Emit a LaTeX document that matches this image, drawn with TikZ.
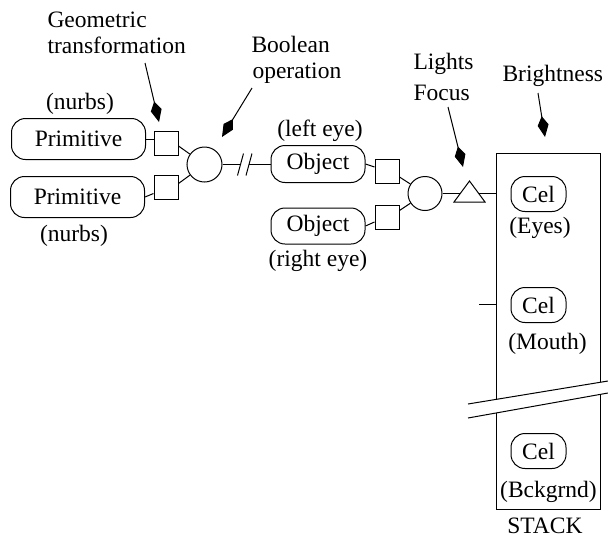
\documentclass[tikz,border=0pt]{standalone}
\usepackage{fontspec}
\setmainfont{Liberation Serif}
\usetikzlibrary{arrows.meta,calc}
\begin{document}
\begin{tikzpicture}[x=1pt,y=-1pt,line width=1pt,
  txt/.style={font=\fontsize{23.5}{26}\selectfont,inner sep=0pt},
  rbox/.style={draw,rounded corners=14pt,txt},
  sq/.style={draw,minimum size=24pt,inner sep=0pt},
  op/.style={draw,circle,minimum size=35pt,inner sep=0pt},
  pointer/.style={-{Kite[length=21pt,width=11pt,inset=9pt]}}]
\useasboundingbox (0,0) rectangle (608,539);

% primitives and their transformations
\node[rbox,minimum width=134pt,minimum height=41pt] (p1) at (78.5,139) {Primitive};
\node[rbox,minimum width=134pt,minimum height=41pt] (p2) at (77.5,197) {Primitive};
\node[sq] (sq1) at (166,143) {};
\node[sq] (sq2) at (166,187.5) {};
\node[op] (c1) at (204.5,164.5) {};

% objects
\node[rbox,minimum width=94pt,minimum height=37pt] (o1) at (318,164) {Object};
\node[rbox,minimum width=94pt,minimum height=36pt] (o2) at (318,226) {Object};
\node[sq] (sq3) at (387,171) {};
\node[sq] (sq4) at (387,217.5) {};
\node[op,minimum size=34pt] (c2) at (425,193.5) {};

% stack of cels
\node[draw,minimum width=104pt,minimum height=356pt,inner sep=0pt] (stack) at (548,331) {};
\node[rbox,minimum width=55pt,minimum height=35pt] (cel1) at (538.5,194) {Cel};
\node[rbox,minimum width=55pt,minimum height=35pt] (cel2) at (538.5,305) {Cel};
\node[rbox,minimum width=55pt,minimum height=35pt] (cel3) at (538.5,451) {Cel};

% labels
\node[txt,anchor=base west] (geo1) at (47,27) {Geometric};
\node[txt,anchor=base west] (geo2) at (47,53) {transformation};
\node[txt,anchor=base west] (bool1) at (251,52) {Boolean};
\node[txt,anchor=base west] (bool2) at (252,78) {operation};
\node[txt,anchor=base west] (lig1) at (413,69) {Lights};
\node[txt,anchor=base west] (lig2) at (413,100) {Focus};
\node[txt,anchor=base west] (bri) at (502,81) {Brightness};
\node[txt] (nu1) at (80,103.5) {(nurbs)};
\node[txt] (nu2) at (74,235.5) {(nurbs)};
\node[txt] (le) at (320,131) {(left eye)};
\node[txt] (re) at (318,261) {(right eye)};
\node[txt] (eyes) at (540,228) {(Eyes)};
\node[txt] (mouth) at (547.5,344) {(Mouth)};
\node[txt] (bck) at (548.5,492) {(Bckgrnd)};
\node[txt,anchor=base] (stk) at (545,533) {STACK};

% connections
\draw (p1.east) -- ($(sq1.west)+(0,-4)$);
\draw (p2.east) -- ($(sq2.west)+(0,6)$);
\draw ($(sq1.east)+(0,3)$) -- (c1);
\draw ($(sq2.east)+(0,-4)$) -- (c1);

\coordinate (b1) at (240.5,164.5);
\coordinate (b2) at (249,164.5);
\draw (c1.east) -- (b1);
\draw (b2) -- (b2 -| o1.west);
\draw ($(b1)+(-3,11)$) -- ($(b1)+(3,-11)$);
\draw ($(b2)+(-3,11)$) -- ($(b2)+(3,-11)$);

\draw (o1.east) -- ($(sq3.west)+(0,-4)$);
\draw (o2.east) -- ($(sq4.west)+(0,4.5)$);
\draw ($(sq3.east)+(0,6)$) -- (c2);
\draw ($(sq4.east)+(0,-7)$) -- (c2);
\draw (c2.east) -- (c2.east -| stack.west);

% light
\draw[fill=white] (454,202) -- (485,202) -- (469.5,181) -- cycle;

\coordinate (stub) at (479,304);
\draw (stub) -- (stub -| stack.west);

% break in the stack
\fill[white] (468,404) -- (608,381) -- (608,393) -- (468,418) -- cycle;
\draw (468,404) -- (608,381);
\draw (468,418) -- (608,393);

% pointers
\coordinate (ga) at (145,63);  \coordinate (gb) at (159,122);
\coordinate (ba) at (252,88);  \coordinate (bb) at (222,137);
\coordinate (la) at (448,107); \coordinate (lb) at (463,167);
\coordinate (ra) at (538,93);  \coordinate (rb) at (545,137);
\draw[pointer] (ga) -- (gb);
\draw[pointer] (ba) -- (bb);
\draw[pointer] (la) -- (lb);
\draw[pointer] (ra) -- (rb);
\end{tikzpicture}
\end{document}
